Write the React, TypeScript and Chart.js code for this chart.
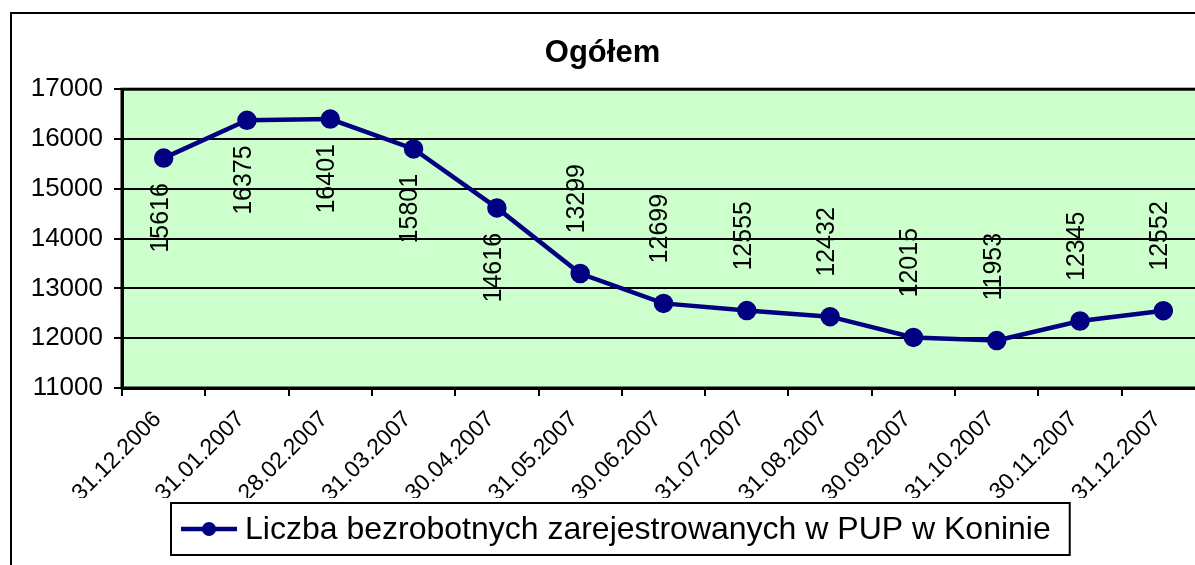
import React, { useEffect, useRef } from "react";
import { Chart, registerables } from "chart.js";

Chart.register(...registerables);

const categories = [
  "31.12.2006",
  "31.01.2007",
  "28.02.2007",
  "31.03.2007",
  "30.04.2007",
  "31.05.2007",
  "30.06.2007",
  "31.07.2007",
  "31.08.2007",
  "30.09.2007",
  "31.10.2007",
  "30.11.2007",
  "31.12.2007",
];
const values = [
  15616, 16375, 16401, 15801, 14616, 13299, 12699, 12555, 12432, 12015, 11953,
  12345, 12552,
];
const seriesLabel = "Liczba bezrobotnych zarejestrowanych w PUP w Koninie";
const chartTitle = "Ogółem";
const yMin = 11000;
const yMax = 17000;
const yStep = 1000;

const FONT = "'Liberation Sans', Arial, Helvetica, sans-serif";
const LINE_COLOR = "#000080";
const PLOT_BG = "#CCFFCC";

const CANVAS_W = 1220;
const CANVAS_H = 565;

export default function App() {
  const ref = useRef<HTMLCanvasElement | null>(null);

  useEffect(() => {
    if (!ref.current) return;
    const labelThreshold = (yMin + yMax) / 2;

    const bgPlugin = {
      id: "bgPlugin",
      beforeDraw(chart: any) {
        const { ctx, chartArea } = chart;
        ctx.save();
        ctx.fillStyle = "#ffffff";
        ctx.fillRect(0, 0, chart.width, chart.height);
        ctx.fillStyle = PLOT_BG;
        ctx.fillRect(
          chartArea.left,
          chartArea.top,
          chartArea.right - chartArea.left,
          chartArea.bottom - chartArea.top
        );
        ctx.restore();
      },
    };

    const valueLabels = {
      id: "valueLabels",
      afterDatasetsDraw(chart: any) {
        const { ctx } = chart;
        const meta = chart.getDatasetMeta(0);
        ctx.save();
        ctx.font = `25px ${FONT}`;
        ctx.fillStyle = "#000";
        ctx.textBaseline = "middle";
        meta.data.forEach((pt: any, i: number) => {
          const v = values[i];
          ctx.save();
          if (v > labelThreshold) {
            ctx.translate(pt.x - 3, pt.y + 25);
            ctx.rotate(-Math.PI / 2);
            ctx.textAlign = "right";
          } else {
            ctx.translate(pt.x - 3, pt.y - 40);
            ctx.rotate(-Math.PI / 2);
            ctx.textAlign = "left";
          }
          ctx.fillText(String(v), 0, 0);
          ctx.restore();
        });
        ctx.restore();
      },
    };

    const frames = {
      id: "frames",
      afterDraw(chart: any) {
        const { ctx, chartArea } = chart;
        ctx.save();
        ctx.strokeStyle = "#000";
        ctx.lineWidth = 3;
        ctx.strokeRect(
          chartArea.left,
          chartArea.top,
          chartArea.right - chartArea.left,
          chartArea.bottom - chartArea.top
        );
        ctx.lineWidth = 2;
        ctx.strokeRect(11, 13, chart.width + 40, chart.height + 40);

        // legend
        ctx.font = `32px ${FONT}`;
        const tw = ctx.measureText(seriesLabel).width;
        const boxW = 10 + 56 + 8 + tw + 19;
        const boxH = 52;
        const boxX = Math.round(620 - boxW / 2);
        const boxY = chartArea.bottom + 115;
        ctx.fillStyle = "#fff";
        ctx.fillRect(boxX, boxY, boxW, boxH);
        ctx.lineWidth = 2;
        ctx.strokeStyle = "#000";
        ctx.strokeRect(boxX, boxY, boxW, boxH);
        const ly = boxY + boxH / 2;
        ctx.strokeStyle = LINE_COLOR;
        ctx.lineWidth = 4.5;
        ctx.beginPath();
        ctx.moveTo(boxX + 10, ly);
        ctx.lineTo(boxX + 66, ly);
        ctx.stroke();
        ctx.fillStyle = LINE_COLOR;
        ctx.beginPath();
        ctx.arc(boxX + 38, ly, 7, 0, Math.PI * 2);
        ctx.fill();
        ctx.fillStyle = "#000";
        ctx.textBaseline = "middle";
        ctx.textAlign = "left";
        ctx.fillText(seriesLabel, boxX + 74, ly + 1);
        ctx.restore();
      },
    };

    const chart = new Chart(ref.current, {
      type: "line",
      data: {
        labels: categories,
        datasets: [
          {
            label: seriesLabel,
            data: values,
            borderColor: LINE_COLOR,
            backgroundColor: LINE_COLOR,
            borderWidth: 4.5,
            pointRadius: 7.5,
            pointHoverRadius: 7.5,
            pointBackgroundColor: LINE_COLOR,
            pointBorderColor: LINE_COLOR,
            tension: 0,
            fill: false,
          },
        ],
      },
      options: {
        responsive: false,
        animation: false,
        events: [],
        layout: { padding: { left: 0, right: 15, top: 0, bottom: 67 } },
        plugins: {
          legend: { display: false },
          tooltip: { enabled: false },
          title: {
            display: true,
            text: chartTitle,
            color: "#000",
            font: { family: FONT, size: 31, weight: "bold" },
            padding: { top: 35, bottom: 17 },
          },
        },
        scales: {
          x: {
            type: "category",
            offset: true,
            afterFit(scale: any) {
              scale.height = 110;
            },
            grid: {
              display: true,
              drawOnChartArea: false,
              offset: true,
              color: "#000",
              lineWidth: 2,
              tickLength: 8,
            },
            border: { display: true, color: "#000", width: 3 },
            ticks: {
              color: "#000",
              font: { family: FONT, size: 23 },
              minRotation: 45,
              maxRotation: 45,
              autoSkip: false,
              padding: 10,
              labelOffset: -6,
            },
          },
          y: {
            min: yMin,
            max: yMax,
            afterFit(scale: any) {
              scale.width = 122;
            },
            grid: {
              color: "#000",
              lineWidth: 2,
              tickLength: 8,
            },
            border: { display: true, color: "#000", width: 3 },
            ticks: {
              stepSize: yStep,
              color: "#000",
              font: { family: FONT, size: 26 },
              padding: 11,
              callback: (v: any) => String(v),
            },
          },
        },
      },
      plugins: [bgPlugin, valueLabels, frames],
    } as any);

    return () => {
      chart.destroy();
    };
  }, []);

  return (
    <div
      style={{
        position: "fixed",
        left: 0,
        top: 0,
        width: 1195,
        height: 565,
        overflow: "hidden",
        background: "#fff",
      }}
    >
      <canvas
        ref={ref}
        width={CANVAS_W}
        height={CANVAS_H}
        style={{ display: "block", width: CANVAS_W, height: CANVAS_H }}
      />
    </div>
  );
}
